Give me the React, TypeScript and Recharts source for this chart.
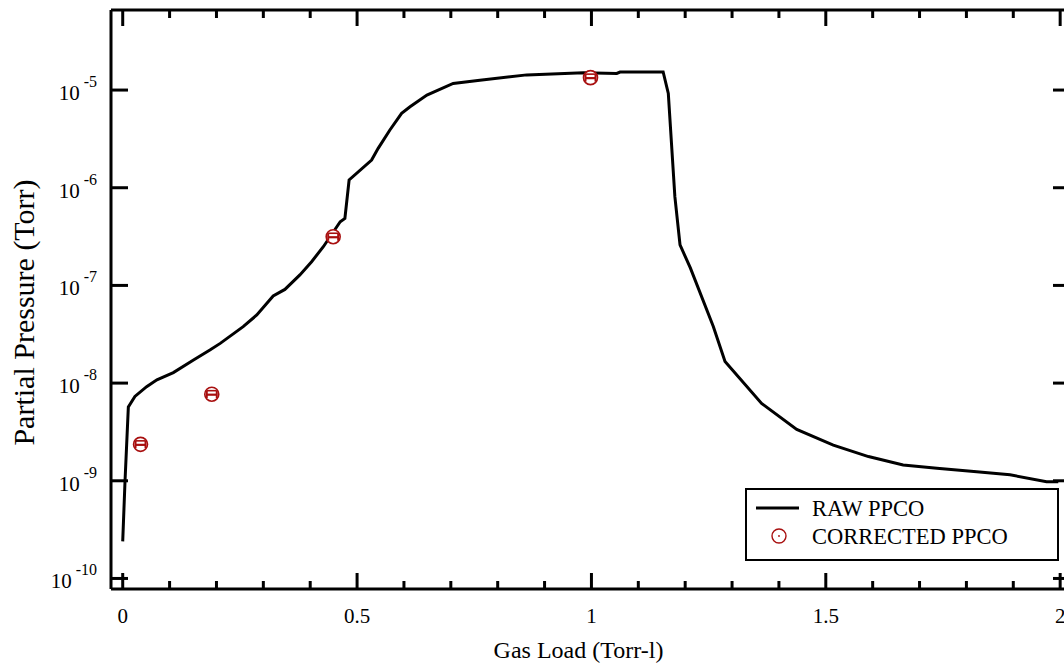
import { ComposedChart, Line, Scatter, XAxis, YAxis, Legend } from 'recharts';

// raw partial pressure of CO vs gas load
const gasLoad = [
  0.0, 0.005, 0.012, 0.026, 0.051, 0.073, 0.108, 0.151, 0.186, 0.208, 0.257, 0.286, 0.321,
  0.346, 0.378, 0.403, 0.428, 0.464, 0.474, 0.483, 0.531, 0.545, 0.57, 0.595, 0.613, 0.649,
  0.705, 0.762, 0.862, 0.983, 1.054, 1.061, 1.153, 1.164, 1.178, 1.189, 1.211, 1.26, 1.285,
  1.363, 1.438, 1.516, 1.591, 1.665, 1.737, 1.822, 1.893, 1.971, 1.996,
];
const rawPpco = [
  2.4e-10, 1.02e-9, 5.7e-9, 7.3e-9, 9.2e-9, 1.08e-8, 1.28e-8, 1.72e-8, 2.18e-8, 2.55e-8,
  3.78e-8, 4.98e-8, 7.8e-8, 9.1e-8, 1.28e-7, 1.75e-7, 2.49e-7, 4.49e-7, 4.86e-7, 1.2e-6,
  1.92e-6, 2.53e-6, 3.9e-6, 5.78e-6, 6.75e-6, 8.89e-6, 1.17e-5, 1.26e-5, 1.43e-5, 1.5e-5,
  1.48e-5, 1.53e-5, 1.53e-5, 9.25e-6, 8.1e-7, 2.6e-7, 1.51e-7, 3.8e-8, 1.66e-8, 6.2e-9,
  3.36e-9, 2.32e-9, 1.77e-9, 1.45e-9, 1.34e-9, 1.24e-9, 1.15e-9, 9.8e-10, 9.8e-10,
];

// corrected points
const corrGasLoad = [0.038, 0.19, 0.449, 0.998];
const corrPpco = [2.36e-9, 7.7e-9, 3.15e-7, 1.34e-5];

const xTicks = [
  0, 0.1, 0.2, 0.3, 0.4, 0.5, 0.6, 0.7, 0.8, 0.9, 1, 1.1, 1.2, 1.3, 1.4, 1.5, 1.6, 1.7, 1.8,
  1.9, 2,
];
const xMajor = [0, 0.5, 1, 1.5, 2];
const yTicks = [1e-10, 1e-9, 1e-8, 1e-7, 1e-6, 1e-5];

const rawName = 'RAW PPCO';
const corrName = 'CORRECTED PPCO';

const xDomain = [-0.025, 2.021];
const yDomain = [7.8e-11, 6.6e-5];

const rawData = gasLoad.map((x, i) => ({ x, p: rawPpco[i] }));
const corrData = corrGasLoad.map((x, i) => ({ x, p: corrPpco[i] }));
// anchors for the inward decade ticks on the left frame
const leftFrameTicks = yTicks.map((p) => ({ x: xDomain[0], p }));

const FONT = '"Liberation Serif", "Times New Roman", serif';
const RED = '#a80f0f';

const isMajor = (v: number) => xMajor.some((m) => Math.abs(m - v) < 1e-9);

const BottomTick = (props: any) => {
  const { x, y, payload } = props;
  const major = isMajor(payload.value);
  return (
    <g>
      <line x1={x} y1={y} x2={x} y2={y - (major ? 16 : 8)} stroke="#000" strokeWidth={3} />
      {major && (
        <text x={x} y={y + 34} textAnchor="middle" fontFamily={FONT} fontSize={21} fill="#000">
          {String(payload.value)}
        </text>
      )}
    </g>
  );
};

const TopTick = (props: any) => {
  const { x, y, payload } = props;
  const major = isMajor(payload.value);
  return <line x1={x} y1={y} x2={x} y2={y + (major ? 16 : 8)} stroke="#000" strokeWidth={3} />;
};

// decade labels (outer left axis)
const LeftLabel = (props: any) => {
  const { x, y, payload } = props;
  const exp = Math.round(Math.log10(payload.value));
  return (
    <text x={x - 13} y={y + 10} textAnchor="end" fontFamily={FONT} fill="#000">
      <tspan fontSize={21}>10</tspan>
      <tspan fontSize={16} dx={4} dy={-13}>
        {String(exp)}
      </tspan>
    </text>
  );
};

const RightTick = (props: any) => {
  const { x, y } = props;
  return <line x1={x} y1={y} x2={x - 17} y2={y} stroke="#000" strokeWidth={3} />;
};

const LeftFrameTick = (props: any) => {
  const { cx, cy } = props;
  if (cx == null || cy == null) return null;
  return <line x1={cx} y1={cy} x2={cx + 17} y2={cy} stroke="#000" strokeWidth={3} />;
};

const CorrMarker = (props: any) => {
  const { cx, cy } = props;
  if (cx == null || cy == null) return null;
  return (
    <g>
      <circle cx={cx} cy={cy} r={7} fill="#fff" stroke={RED} strokeWidth={1.6} />
      <line x1={cx - 5} y1={cy + 0.5} x2={cx + 5} y2={cy + 0.5} stroke={RED} strokeWidth={2.2} />
      <line x1={cx - 5} y1={cy - 3.5} x2={cx - 5} y2={cy + 4} stroke={RED} strokeWidth={2} />
      <line x1={cx + 5} y1={cy - 3.5} x2={cx + 5} y2={cy + 4} stroke={RED} strokeWidth={2} />
      <line x1={cx - 5} y1={cy - 3.5} x2={cx + 5} y2={cy - 3.5} stroke={RED} strokeWidth={1.6} />
    </g>
  );
};

const NoMark = () => <g />;

const LegendBox = () => (
  <svg width={314} height={73} style={{ display: 'block' }}>
    <rect x={1} y={1} width={312} height={71} fill="#fff" stroke="#000" strokeWidth={2} />
    <line x1={11} y1={20} x2={54} y2={20} stroke="#000" strokeWidth={3} />
    <text x={67} y={28} fontFamily={FONT} fontSize={22.5} fill="#000">
      {rawName}
    </text>
    <circle cx={34} cy={48} r={7} fill="none" stroke={RED} strokeWidth={1.4} />
    <circle cx={34} cy={48} r={0.9} fill={RED} />
    <text x={67} y={56} fontFamily={FONT} fontSize={22.5} fill="#000">
      {corrName}
    </text>
  </svg>
);

const XTitle = (props: any) => {
  const { viewBox } = props;
  const cx = viewBox.x + viewBox.width / 2 - 12;
  return (
    <text x={cx} y={viewBox.y + 69} textAnchor="middle" fontFamily={FONT} fontSize={24} fill="#000">
      Gas Load (Torr-l)
    </text>
  );
};

const YTitle = (props: any) => {
  const { viewBox } = props;
  const cx = 34;
  const cy = viewBox.y + viewBox.height / 2 + 13;
  return (
    <text
      x={cx}
      y={cy}
      transform={`rotate(-90, ${cx}, ${cy})`}
      textAnchor="middle"
      fontFamily={FONT}
      fontSize={30}
      fill="#000"
    >
      Partial Pressure (Torr)
    </text>
  );
};

export default function App() {
  const axisLine = { stroke: '#000', strokeWidth: 3 };

  return (
    <div
      style={{
        position: 'absolute',
        left: 0,
        top: 0,
        width: 1064,
        height: 665,
        overflow: 'hidden',
        background: '#fff',
      }}
    >
      <ComposedChart width={1080} height={665} margin={{ top: 9, right: 9, bottom: 0, left: 0 }}>
        <XAxis
          xAxisId="bottom"
          type="number"
          dataKey="x"
          domain={xDomain}
          allowDataOverflow
          ticks={xTicks}
          interval={0}
          height={76}
          tickSize={0}
          tickMargin={0}
          tickLine={false}
          axisLine={axisLine}
          tick={<BottomTick />}
          label={{ content: <XTitle /> }}
        />
        <XAxis
          xAxisId="top"
          orientation="top"
          type="number"
          dataKey="x"
          domain={xDomain}
          allowDataOverflow
          ticks={xTicks}
          interval={0}
          height={1}
          tickSize={0}
          tickMargin={0}
          tickLine={false}
          axisLine={axisLine}
          tick={<TopTick />}
        />
        <YAxis
          yAxisId="labels"
          type="number"
          scale="log"
          dataKey="p"
          domain={yDomain}
          allowDataOverflow
          ticks={yTicks}
          interval={0}
          width={110}
          tickSize={0}
          tickMargin={0}
          tickLine={false}
          axisLine={false}
          tick={<LeftLabel />}
          label={{ content: <YTitle /> }}
        />
        <YAxis
          yAxisId="a-frame"
          type="number"
          scale="log"
          dataKey="p"
          domain={yDomain}
          allowDataOverflow
          ticks={yTicks}
          interval={0}
          width={1}
          tickSize={0}
          tickLine={false}
          axisLine={axisLine}
          tick={false}
        />
        <YAxis
          yAxisId="right"
          orientation="right"
          type="number"
          scale="log"
          dataKey="p"
          domain={yDomain}
          allowDataOverflow
          ticks={yTicks}
          interval={0}
          width={1}
          tickSize={0}
          tickMargin={0}
          tickLine={false}
          axisLine={axisLine}
          tick={<RightTick />}
        />
        <Legend
          layout="horizontal"
          verticalAlign="middle"
          align="center"
          content={<LegendBox />}
          wrapperStyle={{ left: 745, top: 488, width: 314, height: 73 }}
        />
        <Line
          xAxisId="bottom"
          yAxisId="labels"
          data={rawData}
          dataKey="p"
          name={rawName}
          type="linear"
          stroke="#000"
          strokeWidth={3}
          dot={false}
          activeDot={false}
          isAnimationActive={false}
        />
        <Scatter
          xAxisId="bottom"
          yAxisId="labels"
          data={corrData}
          dataKey="p"
          name={corrName}
          shape={<CorrMarker />}
          isAnimationActive={false}
        />
        {/* inward decade ticks on the left frame */}
        <Scatter
          xAxisId="bottom"
          yAxisId="labels"
          data={leftFrameTicks}
          dataKey="p"
          legendType="none"
          shape={<LeftFrameTick />}
          isAnimationActive={false}
        />
        {/* invisible copies so the frame axes (top / right / inner left) get a domain */}
        <Scatter
          xAxisId="top"
          yAxisId="right"
          data={corrData}
          dataKey="p"
          legendType="none"
          shape={<NoMark />}
          isAnimationActive={false}
        />
        <Scatter
          xAxisId="bottom"
          yAxisId="a-frame"
          data={corrData}
          dataKey="p"
          legendType="none"
          shape={<NoMark />}
          isAnimationActive={false}
        />
      </ComposedChart>
    </div>
  );
}
